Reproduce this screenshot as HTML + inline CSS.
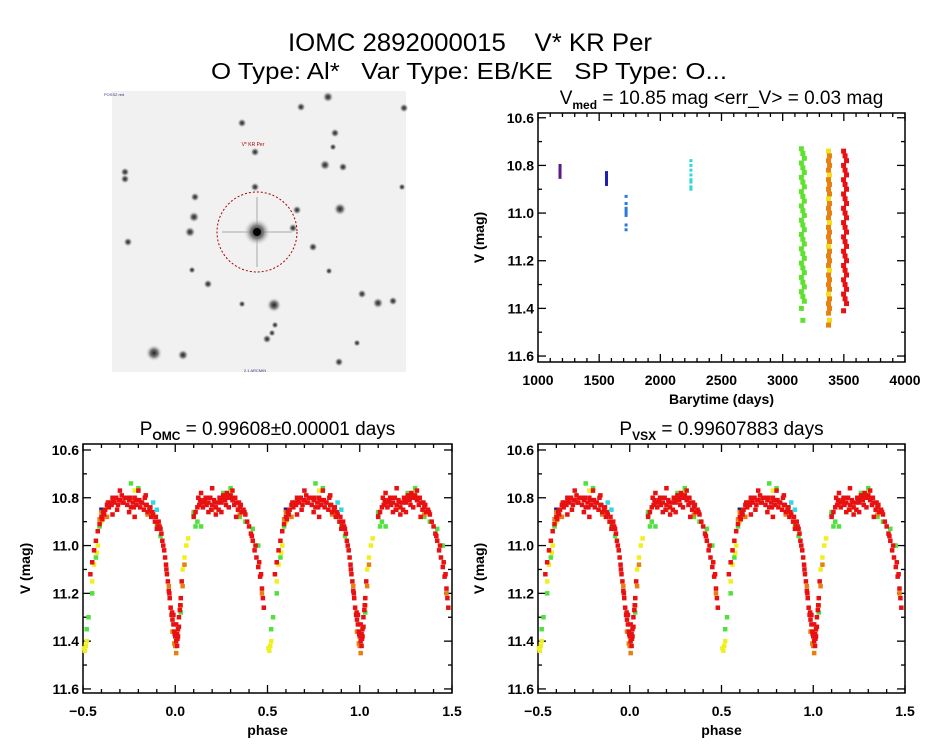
<!DOCTYPE html>
<html><head><meta charset="utf-8"><style>
html,body{margin:0;padding:0;background:#fff;}
svg{display:block;font-family:"Liberation Sans",sans-serif;}
.t{font-size:14px;font-weight:bold;fill:#000;}
.h{font-size:19px;fill:#000;}
</style></head><body>
<svg id="s" width="944" height="747" viewBox="0 0 944 747">
<text x="470" y="51" text-anchor="middle" font-size="25" textLength="364" lengthAdjust="spacingAndGlyphs" style="white-space:pre">IOMC 2892000015&#160;&#160;&#160;&#160;V* KR Per</text>
<text x="469" y="79" text-anchor="middle" font-size="23" textLength="516" lengthAdjust="spacingAndGlyphs" style="white-space:pre">O Type: Al*&#160;&#160;&#160;Var Type: EB/KE&#160;&#160;&#160;SP Type: O...</text>
<g id="img"></g>
<g id="p1"></g>
<g id="p2"></g>
<g id="p3"></g>
</svg>
<script>
// ---- light curve data (phase 0..1, V mag) ----
const redPhase=[0.94,0.945,0.95,0.955,0.96,0.965,0.97,0.975,0.98,0.985,0.99,0.995,0.0,0.005,0.01,0.015,0.02,0.025,0.03,0.035,0.93,0.925,0.92,0.915,0.91,0.005,0.01,0.99,0.015,0.02,
0.10,0.11,0.12,0.13,0.14,0.15,0.16,0.17,0.18,0.19,0.20,0.21,0.22,0.23,0.24,0.25,0.26,0.27,0.28,0.29,0.30,0.31,0.32,0.33,0.34,0.35,0.36,0.37,0.38,0.39,0.40,0.41,0.20,0.22,0.25,0.29,0.18,0.14,0.31,0.33,
0.42,0.43,0.44,0.45,0.46,0.47,0.475,0.48,0.54,0.55,0.56,0.57,0.58,0.59,0.60,0.61,
0.62,0.63,0.64,0.65,0.66,0.67,0.68,0.69,0.70,0.71,0.72,0.73,0.74,0.75,0.76,0.77,0.78,0.79,0.80,0.81,0.82,0.83,0.84,0.85,0.86,0.87,0.88,0.89,0.90,0.70,0.75,0.80,0.66,0.78,0.84,
0.165,0.235,0.275,0.305,0.345,0.655,0.685,0.715,0.745,0.775,0.805,0.835,0.865,0.125,0.195,
0.935,0.952,0.968,0.983,0.997,0.012,0.027,0.415,0.435,0.455,0.465,0.895,0.905,0.615,0.605,0.135,0.155,0.175,0.215,0.245,0.265,0.285,0.325,0.355,0.375,0.635,0.665,0.695,0.725,0.755,0.785,0.815,0.845,0.875];
const redMag=[11.02,11.05,11.08,11.12,11.15,11.19,11.22,11.26,11.29,11.31,11.33,11.36,11.38,11.40,11.37,11.35,11.30,11.27,11.22,11.15,10.98,10.95,10.93,10.92,10.90,11.33,11.42,11.29,11.38,11.34,
10.88,10.86,10.84,10.83,10.82,10.84,10.81,10.83,10.82,10.80,10.83,10.81,10.84,10.82,10.80,10.82,10.79,10.81,10.78,10.80,10.79,10.81,10.83,10.82,10.85,10.84,10.86,10.85,10.87,10.90,10.92,10.95,10.76,10.87,10.86,10.84,10.86,10.78,10.77,10.88,
10.98,11.02,11.05,11.09,11.13,11.18,11.22,11.26,11.12,11.07,11.02,10.98,10.94,10.91,10.88,10.86,
10.85,10.83,10.84,10.82,10.80,10.82,10.80,10.83,10.81,10.79,10.82,10.80,10.83,10.81,10.84,10.82,10.80,10.83,10.81,10.84,10.82,10.85,10.83,10.86,10.85,10.88,10.87,10.90,10.93,10.77,10.86,10.77,10.87,10.88,10.79,
10.80,10.85,10.83,10.80,10.82,10.83,10.85,10.82,10.80,10.84,10.81,10.80,10.84,10.80,10.85,
11.00,11.10,11.20,11.28,11.37,11.39,11.25,10.96,11.00,11.07,11.12,10.88,10.92,10.87,10.89,10.81,10.82,10.80,10.82,10.81,10.80,10.79,10.80,10.83,10.86,10.82,10.81,10.81,10.80,10.80,10.81,10.82,10.83,10.86];
const greenPhase=[0.12,0.14,0.10,0.30,0.35,0.38,0.42,0.45,0.52,0.53,0.55,0.57,0.59,0.61,0.76,0.80,0.88,0.90,0.92,0.03,0.11,0.26,0.64,0.86];
const greenMag=[10.90,10.92,10.86,10.76,10.88,10.90,10.93,11.00,11.35,11.30,11.20,11.05,10.92,10.87,10.74,10.76,10.87,10.91,10.96,11.28,10.92,10.78,10.82,10.84];
const yellowPhase=[0.05,0.06,0.07,0.505,0.51,0.52,0.55,0.56,0.58,0.60,0.62,0.04,0.78,0.30,0.515,0.575];
const yellowMag=[11.05,11.00,10.97,11.43,11.44,11.40,11.15,11.08,11.00,10.90,10.85,11.10,10.77,10.78,11.42,11.03];
const orangePhase=[0.0,0.005,0.995,0.01,0.03,0.04,0.05,0.60,0.63,0.20,0.35,0.85,0.47,0.965,0.985,0.59];
const orangeMag=[11.42,11.45,11.41,11.39,11.25,11.17,11.08,10.86,10.88,10.85,10.87,10.87,11.20,11.17,11.36,10.89];
const cyanPhase=[0.90,0.88,0.35];
const cyanMag=[10.85,10.82,10.83];
const navyPhase=[0.10,0.60];
const navyMag=[10.87,10.85];
// ---- time series data ----
const purpleT=[1180,1180,1180,1180,1180,1180];
const purpleM=[10.80,10.81,10.82,10.83,10.84,10.85];
const blueT=[1560,1560,1560,1560,1560,1560];
const blueM=[10.83,10.84,10.85,10.86,10.87,10.88];
const azureT=[1720,1720,1720,1720,1720,1720,1720,1720];
const azureM=[10.93,10.96,10.98,10.99,11.00,11.01,11.05,11.07];
const cyanT=[2250,2250,2250,2250,2250,2250,2250,2250];
const cyanTM=[10.78,10.80,10.82,10.84,10.86,10.87,10.89,10.90];
const stripTimes={green:3165,orange:3375,red:3510};
const greenStripM=[10.73,10.75,10.77,10.79,10.81,10.83,10.85,10.87,10.89,10.91,10.93,10.95,10.97,10.99,11.01,11.03,11.05,11.07,11.09,11.11,11.13,11.15,11.17,11.19,11.21,11.23,11.25,11.27,11.29,11.31,11.33,11.35,11.37,11.40,11.45];
const orangeStripM=[10.74,10.76,10.78,10.80,10.82,10.84,10.86,10.88,10.90,10.92,10.94,10.96,10.98,11.00,11.02,11.04,11.06,11.08,11.10,11.12,11.14,11.16,11.18,11.20,11.22,11.24,11.26,11.28,11.30,11.32,11.34,11.36,11.38,11.40,11.42,11.45,11.47];
const redStripM=[10.74,10.76,10.78,10.80,10.82,10.84,10.86,10.88,10.90,10.92,10.94,10.96,10.98,11.00,11.02,11.04,11.06,11.08,11.10,11.12,11.14,11.16,11.18,11.20,11.22,11.24,11.26,11.28,11.30,11.32,11.34,11.36,11.38,11.41];
const magTicks=["10.6","10.8","11.0","11.2","11.4","11.6"];
const timeTicks=["1000","1500","2000","2500","3000","3500","4000"];
const phaseTicks=["\u22120.5","0.0","0.5","1.0","1.5"];
// ---- stars (sky image) ----
const starX=[328,301,404,242,335,333,255,125,125,325,343,255,195,194,190,340,297,293,402,128,313,208,192,274,242,378,393,362,275,272,267,154,183,357,339,329];
const starY=[97,107,108,123,133,147,152,172,179,165,167,187,197,217,232,209,210,228,187,242,247,284,270,305,304,303,301,294,325,333,339,353,355,343,362,271];
const starR=[3,2.5,2.5,2.5,2.5,2,2.5,2.5,2.5,3,2.5,2.5,2.5,3,3,3.5,2.5,2.5,2,2.5,2.5,2.5,2,4,2,3,2.5,2.5,2,2,2.5,4.5,3,2,2.5,2];

const NS='http://www.w3.org/2000/svg';
function mk(tag,attrs,parent){const e=document.createElementNS(NS,tag);for(const k in attrs)e.setAttribute(k,attrs[k]);parent.appendChild(e);return e;}

// sky image
const img=document.getElementById('img');
const defs=mk('defs',{},img);
const gr=mk('radialGradient',{id:'sg'},defs);
mk('stop',{offset:'0','stop-color':'#222'},gr);mk('stop',{offset:'0.45','stop-color':'#777'},gr);mk('stop',{offset:'1','stop-color':'#f2f2f2','stop-opacity':'0'},gr);
let bg=mk('rect',{x:112,y:91,width:294,height:281,fill:'#f1f1f1'},img);


for(let i=0;i<starX.length;i++){
  const c=mk('circle',{cx:starX[i],cy:starY[i],r:starR[i]*1.9,fill:'url(#sg)'},img);
  
  
}
mk('line',{x1:222,y1:232,x2:292,y2:232,stroke:'#ccc','stroke-width':2},img);
mk('line',{x1:257,y1:197,x2:257,y2:267,stroke:'#ccc','stroke-width':2},img);
let tgt=mk('circle',{cx:257,cy:232,r:14,fill:'url(#sg)'},img);


mk('circle',{cx:257,cy:232,r:4,fill:'#000'},img);
let ring=mk('circle',{cx:257,cy:232,r:40,fill:'none',stroke:'#a00','stroke-width':1,'stroke-dasharray':'2,2'},img);


let lb=mk('text',{x:253,y:146,'font-size':5,fill:'#a00','text-anchor':'middle'},img);lb.textContent='V* KR Per';


let l2=mk('text',{x:104,y:96,'font-size':4,fill:'#337'},img);l2.textContent='POSS2 red';
let l3=mk('text',{x:255,y:372,'font-size':4,fill:'#337','text-anchor':'middle'},img);l3.textContent='2.1 ARCMIN';

function plot(g,o){
  const {x0,x1,y0,y1,xmin,xmax,ymin,ymax}=o;
  const X=v=>x0+(v-xmin)/(xmax-xmin)*(x1-x0);
  const Y=v=>y0+(v-ymin)/(ymax-ymin)*(y1-y0);
  const ax=mk('rect',{x:x0,y:y0,width:x1-x0,height:y1-y0,fill:'none',stroke:'#000','stroke-width':1.5},g);
  
  
  for(let m=Math.ceil(ymin*10-1e-6);m<=ymax*10+1e-6;m++){
    const v=m/10, yy=Y(v), major=(m%2===0);const L=major?8:4;
    mk('line',{x1:x0,y1:yy,x2:x0+L,y2:yy,stroke:'#000','stroke-width':1.3},g);
    mk('line',{x1:x1,y1:yy,x2:x1-L,y2:yy,stroke:'#000','stroke-width':1.3},g);
  }
  o.yTicks.forEach(s=>{const v=parseFloat(s);const t=mk('text',{x:x0-4,y:Y(v)+5,'text-anchor':'end',class:'t'},g);t.textContent=s;
    
    });
  const st=o.minorStep, n=Math.round((xmax-xmin)/st);
  for(let i=0;i<=n;i++){const v=xmin+i*st,xx=X(v),major=(i%o.minorPer===0);const L=major?8:4;
    mk('line',{x1:xx,y1:y1,x2:xx,y2:y1-L,stroke:'#000','stroke-width':1.3},g);
    mk('line',{x1:xx,y1:y0,x2:xx,y2:y0+L,stroke:'#000','stroke-width':1.3},g);}
  o.xTicks.forEach(s=>{const v=parseFloat(s.replace('\u2212','-'));const t=mk('text',{x:X(v),y:y1+23,'text-anchor':'middle',class:'t','font-size':15},g);t.textContent=s;
    
    });
  const xt=mk('text',{x:(x0+x1)/2,y:y1+42,'text-anchor':'middle',class:'t','font-size':15},g);xt.textContent=o.xLabel;
  
  
  const yt=mk('text',{x:0,y:0,'text-anchor':'middle',class:'t','font-size':15,transform:`translate(${o.yLabX},${(y0+y1)/2}) rotate(-90)`},g);yt.textContent='V (mag)';
  
  
  const tt=mk('text',{x:(x0+x1)/2,y:y0-9,'text-anchor':'middle',class:'h'},g);
  tt.innerHTML=o.title;
  
  
  return {X,Y};
}
function pts(g,ax,xs,ys,col,name,xmin,xmax,sz){
  sz=sz||4.5;
  for(let i=0;i<xs.length;i++){
    if(xs[i]<xmin||xs[i]>xmax)continue;
    const r=mk('rect',{x:ax.X(xs[i])-sz/2,y:ax.Y(ys[i])-sz/2,width:sz,height:sz,fill:col},g);
    
    
  }
}
const g1=document.getElementById('p1');
const a1=plot(g1,{x0:538,x1:905,y0:113,y1:362,xmin:1000,xmax:4000,ymin:10.58,ymax:11.625,minorStep:100,minorPer:5,
  yTicks:magTicks,xTicks:timeTicks,xLabel:'Barytime (days)',yLabX:484,
  title:'V<tspan font-size="12" dy="5" font-weight="bold">med</tspan><tspan dy="-5"> = 10.85 mag &lt;err_V&gt; = 0.03 mag</tspan>'});
pts(g1,a1,purpleT,purpleM,'#5a1a8a','point-purple',1000,4000,3);
pts(g1,a1,blueT,blueM,'#2020b0','point-blue',1000,4000,3);
pts(g1,a1,azureT,azureM,'#2a7ad8','point-azure',1000,4000,3);
pts(g1,a1,cyanT,cyanTM,'#30d8d8','point-cyan',1000,4000,3);
greenStripM.forEach((m,i)=>pts(g1,a1,[stripTimes.green+(i%3-1)*12],[m],'#60e030','point-green',1000,4000,5));
orangeStripM.forEach((m,i)=>pts(g1,a1,[stripTimes.orange+(i%2)*8],[m],i%5===0?'#f0e020':'#e88010','point-orange',1000,4000,5));
redStripM.forEach((m,i)=>pts(g1,a1,[stripTimes.red+(i%3-1)*12],[m],'#e81010','point-red',1000,4000,5));
function phasePlot(id,x0,x1,yLabX,title){
  const g=document.getElementById(id);
  const a=plot(g,{x0:x0,x1:x1,y0:444,y1:693,xmin:-0.5,xmax:1.5,ymin:10.575,ymax:11.617,minorStep:0.1,minorPer:5,
    yTicks:magTicks,xTicks:phaseTicks,xLabel:'phase',yLabX:yLabX,title:title});
  const series=[[cyanPhase,cyanMag,'#30d8e0','point-cyan'],[navyPhase,navyMag,'#202080','point-navy'],[greenPhase,greenMag,'#50e040','point-green'],[yellowPhase,yellowMag,'#f0f020','point-yellow'],[orangePhase,orangeMag,'#e88010','point-orange'],[redPhase,redMag,'#e81010','point-red']];
  series.forEach(s=>{[-1,0,1].forEach(k=>pts(g,a,s[0].map(p=>p+k),s[1],s[2],s[3],-0.5,1.5,4.5));});
}
phasePlot('p2',83,452,30,'P<tspan font-size="12" dy="5" font-weight="bold">OMC</tspan><tspan dy="-5"> = 0.99608±0.00001 days</tspan>');
phasePlot('p3',538,905,484,'P<tspan font-size="12" dy="5" font-weight="bold">VSX</tspan><tspan dy="-5"> = 0.99607883 days</tspan>');
</script>
</body></html>
